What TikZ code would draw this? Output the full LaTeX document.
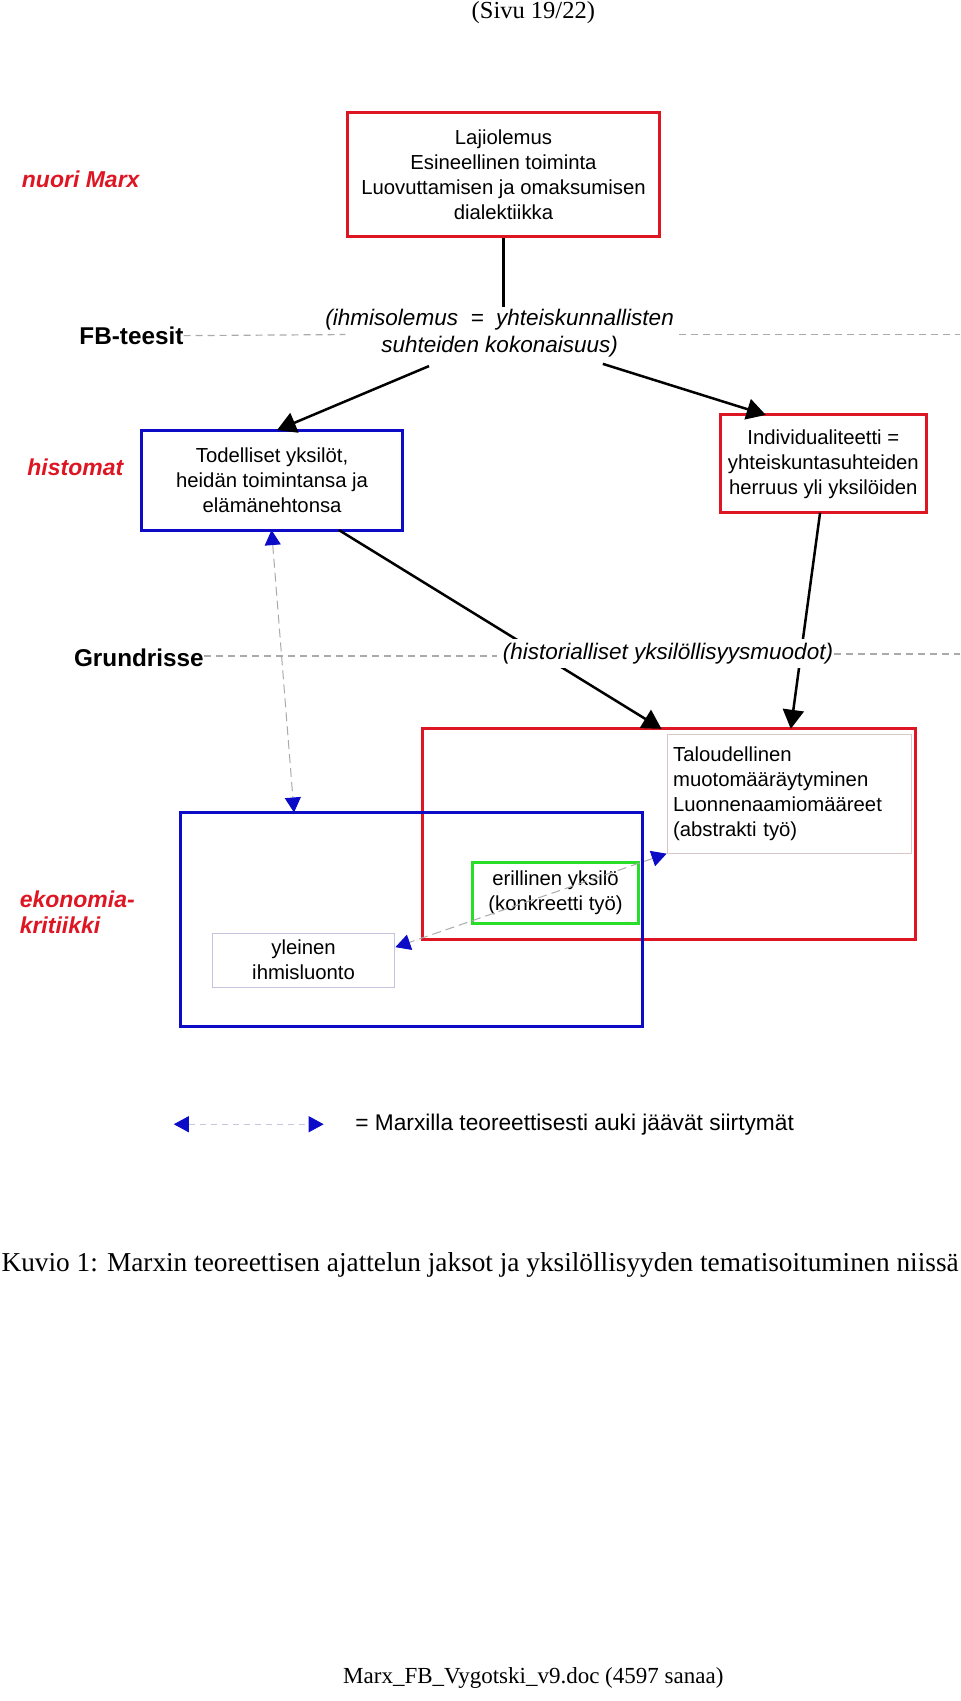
\documentclass[tikz,border=0pt]{standalone}
\usepackage{fontspec}
\setmainfont{Liberation Serif}
\newfontfamily\arial{Liberation Sans}
\usetikzlibrary{arrows.meta}
\definecolor{mred}{RGB}{222,22,36}
\definecolor{mblue}{RGB}{12,12,200}
\definecolor{mgreen}{RGB}{40,222,40}
\definecolor{dgray}{RGB}{170,170,170}
\definecolor{lboxa}{RGB}{214,200,200}
\definecolor{lboxb}{RGB}{196,196,222}
\definecolor{legline}{RGB}{198,198,222}
\begin{document}
\begin{tikzpicture}[x=1.086pt,y=-1.086pt,
  boxtxt/.style={font=\arial\fontsize{20.3}{25}\selectfont, align=center, inner sep=0pt, line width=3pt},
  redlab/.style={font=\arial\bfseries\itshape\fontsize{23}{26}\selectfont, text=mred, inner sep=0pt, anchor=west, align=left},
  blklab/.style={font=\arial\bfseries\fontsize{24.3}{27}\selectfont, inner sep=0pt, anchor=west},
  itx/.style={font=\arial\itshape\fontsize{22.5}{27}\selectfont, align=center, inner sep=0pt},
  divline/.style={draw=dgray, line width=1.2pt, dash pattern=on 7pt off 5pt},
  blk/.style={line width=2.5pt, -{Triangle[length=19pt,width=21pt]}},
  gaparrow/.style={draw=dgray, line width=1pt, dash pattern=on 9pt off 5pt,
    {Triangle[length=15pt,width=16pt,color=mblue]}-{Triangle[length=15pt,width=16pt,color=mblue]}}
]
\useasboundingbox (0,0) rectangle (884,1566);

% header
\node[font=\fontsize{24.5}{28}\selectfont, inner sep=0pt] (head) at (491,12) {(Sivu 19/22)};

% row labels
\node[redlab] (nm) at (20,165) {nuori Marx};
\node[blklab] (fbl) at (73,309) {FB-teesit};
\node[redlab] (hm) at (25,430) {histomat};
\node[blklab] (grl) at (68,606) {Grundrisse};
\node[redlab] (ek) at (18,840) {ekonomia-\\kritiikki};

% top box
\node[boxtxt, draw=mred, minimum width=311.7pt, minimum height=123.8pt] (top) at (463.5,161)
  {Lajiolemus\\Esineellinen toiminta\\Luovuttamisen ja omaksumisen\\dialektiikka};

% FB text
\node[itx] (fb) at (460,307) {(ihmisolemus~ = ~yhteiskunnallisten\\suhteiden kokonaisuus)};
\coordinate (fbA) at (318,308);
\coordinate (fbB) at (625,308);
\coordinate (fbE) at (884,308);
\coordinate (fbT) at (463.5,283);
\draw[divline] (fbl.east) -- (fbA);
\draw[divline] (fbB) -- (fbE);
\draw[line width=2.5pt] (top.south) -- (fbT);

% histomat boxes
\node[boxtxt, draw=mblue, minimum width=261.7pt, minimum height=99.9pt] (hist1) at (250.5,442)
  {Todelliset yksilöt,\\heidän toimintansa ja\\elämänehtonsa};
\node[boxtxt, draw=mred, minimum width=206.3pt, minimum height=97.7pt] (hist2) at (758,427)
  {Individualiteetti =\\yhteiskuntasuhteiden\\herruus yli yksilöiden};

\coordinate (fbL) at (395,337);
\coordinate (fbR) at (555,335);
\coordinate (h1t) at (255,396);
\coordinate (h2t) at (705,382);
\draw[blk] (fbL) -- (h1t);
\draw[blk] (fbR) -- (h2t);

% economy critique boxes
\node[draw=mred, line width=3pt, minimum width=493pt, minimum height=210.7pt, inner sep=0pt] (bigred) at (616,768) {};
\node[draw=mblue, line width=3pt, minimum width=462.7pt, minimum height=214pt, inner sep=0pt] (bigblue) at (378.8,846.4) {};
\node[font=\arial\fontsize{20.3}{25}\selectfont, draw=lboxa, line width=1pt, align=left,
  text width=232pt, inner xsep=6pt, inner ysep=0pt, minimum height=118.9pt] (talo) at (726.5,730.7)
  {Taloudellinen\\muotomääräytyminen\\Luonnenaamiomääreet\\(abstrakti työ)};
\node[boxtxt, draw=lboxb, line width=1pt, minimum width=181.4pt, minimum height=54.3pt] (yl) at (279.5,884)
  {yleinen\\ihmisluonto};
\node[boxtxt, draw=mgreen, minimum width=165.3pt, minimum height=60.3pt] (gr2) at (511.4,822.2)
  {erillinen yksilö\\(konkreetti työ)};

% lines from histomat to Grundrisse boxes
\coordinate (h1b) at (312,488);
\coordinate (brt1) at (609,671);
\coordinate (h2b) at (755,472);
\coordinate (brt2) at (728,671);
\draw[blk] (h1b) -- (brt1);
\draw[blk] (h2b) -- (brt2);

% Grundrisse text on top
\node[itx, fill=white, inner xsep=1pt, inner ysep=4pt] (gr) at (615,602) {(historialliset yksilöllisyysmuodot)};
\coordinate (grA) at (458,604);
\coordinate (grE) at (884,602);
\draw[divline] (grl.east |- grA) -- (grA);
\draw[divline] (gr.east) -- (grE);

% open transitions
\coordinate (h1d) at (250,488);
\coordinate (bbt) at (270.7,748);
\draw[gaparrow] (h1d) -- (bbt);
\coordinate (ylr) at (364,872);
\draw[gaparrow] (talo.south west) -- (ylr);

% legend
\coordinate (lgA) at (160,1035);
\coordinate (lgB) at (298,1035);
\draw[gaparrow, draw=legline, dash pattern=on 6pt off 5pt] (lgA) -- (lgB);
\node[font=\arial\fontsize{22.7}{27}\selectfont, inner sep=0pt, anchor=west] (lgt) at (327,1035)
  {= Marxilla teoreettisesti auki jäävät siirtymät};

% caption and footer
\node[font=\fontsize{27.3}{32}\selectfont, inner sep=0pt] (cap) at (442,1165)
  {Kuvio 1: Marxin teoreettisen ajattelun jaksot ja yksilöllisyyden tematisoituminen niissä};
\node[font=\fontsize{23}{27}\selectfont, inner sep=0pt] (foot) at (491,1545)
  {Marx\_FB\_Vygotski\_v9.doc (4597 sanaa)};
\end{tikzpicture}
\end{document}
